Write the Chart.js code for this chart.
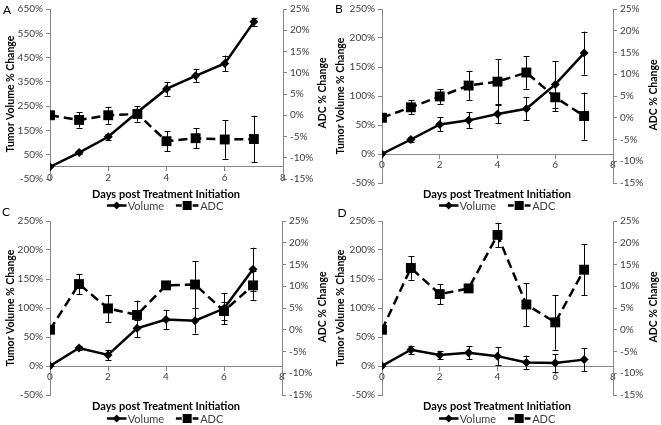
<!DOCTYPE html>
<html>
<head>
<meta charset="utf-8">
<script src="https://cdn.jsdelivr.net/npm/chart.js@4.4.1/dist/chart.umd.min.js"></script>
<style>
  body { margin: 0; background: #fff; font-family: Lato, "Open Sans", sans-serif; }
  #wrap { position: relative; width: 661px; height: 425px; overflow: hidden; }
  canvas { position: absolute; }
  .lbl { position: absolute; transform: translate(-50%, -50%); white-space: nowrap; color: #000; }
  .letter { font-size: 12px; }
  .xtitle { font-weight: bold; font-size: 11px; }
  .ytitle { font-weight: bold; font-size: 10.5px; transform: translate(-50%, -50%) rotate(-90deg); }
  .legend { position: absolute; transform: translate(-50%, -50%); display: flex; align-items: center;
            font-size: 11px; white-space: nowrap; color: #404040; }
  .legend svg { display: block; }
  .legend span { padding-left: 1px; }
  .legend .gap { width: 12px; }
</style>
</head>
<body>
<div id="wrap">
  <canvas id="cA" width="330" height="212" style="left:0;top:0"></canvas>
  <canvas id="cB" width="331" height="212" style="left:330px;top:0"></canvas>
  <canvas id="cC" width="330" height="213" style="left:0;top:212px"></canvas>
  <canvas id="cD" width="331" height="213" style="left:330px;top:212px"></canvas>
</div>
<script>
// ---- data ----
const days = [0, 1, 2, 3, 4, 5, 6, 7];
const xTicks = [0, 2, 4, 6, 8];

// Panel A
const volA    = [0, 59, 124, 225, 321, 375, 426, 597];
const volErrA = [0, 5, 13, 15, 28, 26, 32, 15];
const adcA    = [0, -1.1, 0, 0.3, -6.1, -5.4, -5.7, -5.6];
const adcErrA = [0, 1.8, 2.0, 1.8, 2.3, 2.4, 4.5, 5.5];

// Panel B
const volB    = [0, 25, 51, 58, 69, 78, 120, 174];
const volErrB = [0, 5, 12, 14, 16, 20, 40, 37];
const adcB    = [0, 2.4, 4.9, 7.4, 8.3, 10.4, 4.7, 0.4];
const adcErrB = [0, 1.6, 1.7, 3.4, 5.1, 3.7, 3.2, 5.4];

// Panel C
const volC    = [0, 31, 19, 65, 80, 78, 99, 167];
const volErrC = [0, 4, 9, 15, 17, 22, 27, 37];
const adcC    = [0, 10.5, 4.9, 3.4, 10.2, 10.4, 4.3, 10.2];
const adcErrC = [0, 2.3, 3.1, 3.3, 0.4, 5.4, 2.1, 3.3];

// Panel D
const volD    = [0, 28, 19, 23, 17, 6, 5, 11];
const volErrD = [0, 7, 7, 11, 15, 12, 15, 20];
const adcD    = [0, 14.2, 8.2, 9.5, 21.8, 5.8, 1.7, 13.8];
const adcErrD = [0, 2.7, 2.3, 0.3, 2.8, 4.9, 6.3, 5.9];

// axis ticks
const volTicksA = [-50, 50, 150, 250, 350, 450, 550, 650];
const volTicks  = [-50, 0, 50, 100, 150, 200, 250];
const adcTicks  = [-15, -10, -5, 0, 5, 10, 15, 20, 25];

const AXIS = '#868686';
const TXT = '#404040';
Chart.defaults.font.family = 'Lato, "Open Sans", sans-serif';
Chart.defaults.font.size = 10;
Chart.defaults.color = TXT;

// vertical error bars with caps, through the dataset's own y scale
const errorBars = {
    id: 'errorBars',
    beforeDatasetsDraw(chart) {
        const ctx = chart.ctx;
        chart.data.datasets.forEach((ds, i) => {
            if (!ds.errors) return;
            const ys = chart.scales[ds.yAxisID];
            const xs = chart.scales.x;
            ctx.save();
            ctx.strokeStyle = '#000';
            ctx.lineWidth = 1;
            ds.data.forEach((p, j) => {
                const e = ds.errors[j];
                if (!e) return;
                const x = Math.round(xs.getPixelForValue(p.x)) + 0.5;
                const y1 = ys.getPixelForValue(p.y + e);
                const y2 = ys.getPixelForValue(p.y - e);
                ctx.beginPath();
                ctx.moveTo(x, y1); ctx.lineTo(x, y2);
                ctx.moveTo(x - 3, Math.round(y1) + 0.5); ctx.lineTo(x + 3, Math.round(y1) + 0.5);
                ctx.moveTo(x - 3, Math.round(y2) + 0.5); ctx.lineTo(x + 3, Math.round(y2) + 0.5);
                ctx.stroke();
            });
            ctx.restore();
        });
    }
};

function pts(vals) {
    return days.map((d, i) => ({ x: d, y: vals[i] }));
}

function axisGrid() {
    return { display: true, drawOnChartArea: false, drawTicks: true, tickLength: 4, color: AXIS };
}

function makePanel(id, p) {
    new Chart(document.getElementById(id), {
        type: 'line',
        data: {
            datasets: [{
                label: 'Volume',
                data: pts(p.vol),
                errors: p.volErr,
                yAxisID: 'y',
                borderColor: '#000',
                backgroundColor: '#000',
                borderWidth: 2.5,
                pointStyle: 'rectRot',
                pointRadius: 4.5,
                pointBorderWidth: 0,
                tension: 0
            }, {
                label: 'ADC',
                data: pts(p.adc),
                errors: p.adcErr,
                yAxisID: 'y1',
                borderColor: '#000',
                backgroundColor: '#000',
                borderWidth: 2.5,
                borderDash: [9, 5],
                pointStyle: 'rect',
                pointRadius: 7,
                pointBorderWidth: 0,
                tension: 0
            }]
        },
        options: {
            responsive: false,
            animation: false,
            layout: { padding: { top: p.padTop, bottom: p.padBottom, left: 0, right: 0 } },
            plugins: { legend: { display: false }, tooltip: { enabled: false } },
            scales: {
                x: {
                    type: 'linear',
                    position: { y: 0 },
                    min: 0, max: 8,
                    afterBuildTicks: s => { s.ticks = xTicks.map(v => ({ value: v })); },
                    grid: axisGrid(),
                    border: { display: true, color: AXIS, width: 1 },
                    ticks: { padding: 1, maxRotation: 0, callback: v => v }
                },
                y: {
                    position: 'left',
                    min: p.volTicks[0], max: p.volTicks[p.volTicks.length - 1],
                    afterBuildTicks: s => { s.ticks = p.volTicks.map(v => ({ value: v })); },
                    afterFit: s => { s.width = p.leftW; },
                    grid: axisGrid(),
                    border: { display: true, color: AXIS, width: 1 },
                    ticks: { padding: 3, callback: v => v + '%' },
                    title: { display: true, text: 'Tumor Volume % Change', color: '#000',
                             font: { weight: 'bold', size: 10.5 }, padding: { top: 4, bottom: 0 } }
                },
                y1: {
                    position: 'right',
                    min: adcTicks[0], max: adcTicks[adcTicks.length - 1],
                    afterBuildTicks: s => { s.ticks = adcTicks.map(v => ({ value: v })); },
                    afterFit: s => { s.width = p.rightW; },
                    grid: axisGrid(),
                    border: { display: true, color: AXIS, width: 1 },
                    ticks: { padding: 3, callback: v => v + '%' }
                }
            }
        },
        plugins: [errorBars]
    });
}

// HTML labels: panel letter, axis titles, legend
const wrap = document.getElementById('wrap');
function addLabel(cls, text, x, y) {
    const d = document.createElement('div');
    d.className = 'lbl ' + cls;
    d.textContent = text;
    d.style.left = x + 'px';
    d.style.top = y + 'px';
    wrap.appendChild(d);
}
function addLegend(x, y) {
    const d = document.createElement('div');
    d.className = 'legend';
    d.style.left = x + 'px';
    d.style.top = y + 'px';
    d.innerHTML =
        '<svg width="20" height="10"><line x1="0" y1="5" x2="20" y2="5" stroke="#000" stroke-width="2.5"/>' +
        '<path d="M10 1 L14 5 L10 9 L6 5 Z" fill="#000"/></svg><span>Volume</span>' +
        '<div class="gap"></div>' +
        '<svg width="23" height="10">' +
        '<line x1="0" y1="5" x2="6" y2="5" stroke="#000" stroke-width="2.5"/>' +
        '<rect x="7" y="0.5" width="9" height="9" fill="#000"/>' +
        '<line x1="17" y1="5" x2="23" y2="5" stroke="#000" stroke-width="2.5"/></svg><span>ADC</span>';
    wrap.appendChild(d);
}

makePanel('cA', { vol: volA, volErr: volErrA, adc: adcA, adcErr: adcErrA, volTicks: volTicksA,
                  leftW: 50, rightW: 47, padTop: 6, padBottom: 33 });
makePanel('cB', { vol: volB, volErr: volErrB, adc: adcB, adcErr: adcErrB, volTicks: volTicks,
                  leftW: 52, rightW: 48, padTop: 7, padBottom: 29 });
makePanel('cC', { vol: volC, volErr: volErrC, adc: adcC, adcErr: adcErrC, volTicks: volTicks,
                  leftW: 50, rightW: 48, padTop: 7, padBottom: 30 });
makePanel('cD', { vol: volD, volErr: volErrD, adc: adcD, adcErr: adcErrD, volTicks: volTicks,
                  leftW: 52, rightW: 48, padTop: 7, padBottom: 30 });

addLabel('letter', 'A', 7, 9);
addLabel('letter', 'B', 339, 8);
addLabel('letter', 'C', 6, 211);
addLabel('letter', 'D', 342, 212);
addLabel('ytitle', 'ADC % Change', 322, 93);
addLabel('ytitle', 'ADC % Change', 653, 95);
addLabel('ytitle', 'ADC % Change', 322, 307);
addLabel('ytitle', 'ADC % Change', 653, 307);
addLabel('xtitle', 'Days post Treatment Initiation', 166, 193);
addLabel('xtitle', 'Days post Treatment Initiation', 497, 193);
addLabel('xtitle', 'Days post Treatment Initiation', 166, 405);
addLabel('xtitle', 'Days post Treatment Initiation', 497, 405);
addLegend(165, 205);
addLegend(497, 205);
addLegend(165, 418);
addLegend(497, 418);
</script>
</body>
</html>
